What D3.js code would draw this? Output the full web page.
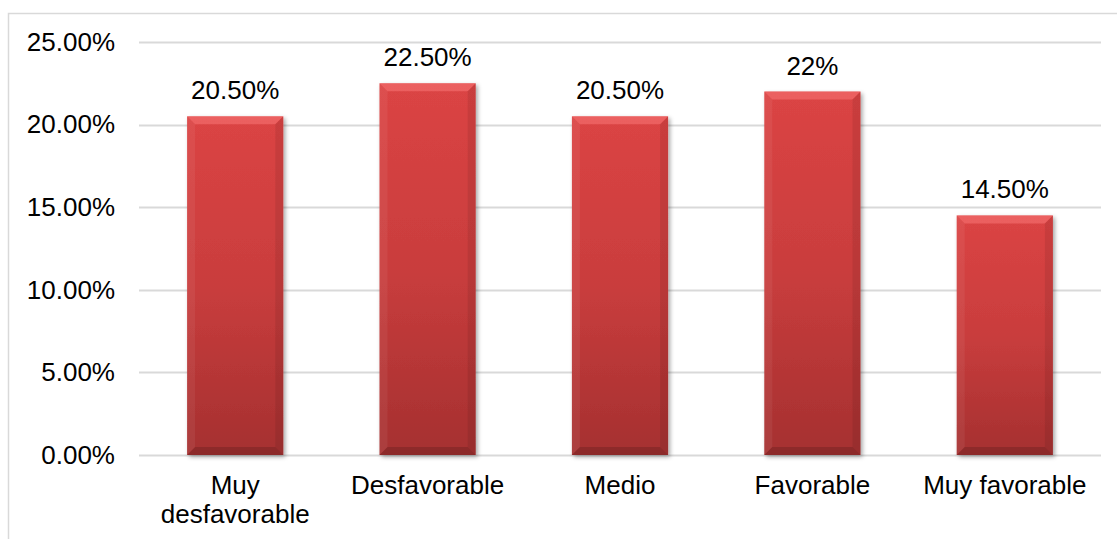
<!DOCTYPE html>
<html>
<head>
<meta charset="utf-8">
<script src="https://cdn.jsdelivr.net/npm/d3@7"></script>
<style>
  html, body { margin: 0; padding: 0; background: #fff; }
  svg { display: block; }
  text { font-family: "Liberation Sans", Arial, sans-serif; fill: #000; }
</style>
</head>
<body>
<svg id="chart" width="1117" height="539"></svg>
<script>
// Distribución de respuestas por nivel de valoración
const categories = ["Muy desfavorable", "Desfavorable", "Medio", "Favorable", "Muy favorable"];
const values = [0.205, 0.225, 0.205, 0.22, 0.145];
const valueLabels = ["20.50%", "22.50%", "20.50%", "22%", "14.50%"];
const yTicks = [0, 0.05, 0.10, 0.15, 0.20, 0.25];

const svg = d3.select("#chart");
const W = 1117, H = 539;
const plot = { left: 139, right: 1101, top: 42, bottom: 455 };
const fontSize = 26;

// chart frame (top and left edges visible)
svg.append("path")
  .attr("d", `M8.5,${H} L8.5,13.5 L${W},13.5`)
  .attr("fill", "none")
  .attr("stroke", "#d9d9d9")
  .attr("stroke-width", 1.5);

const x = d3.scaleBand()
  .domain(categories)
  .range([plot.left, plot.right])
  .paddingInner(0.5)
  .paddingOuter(0.25);

const y = d3.scaleLinear()
  .domain([0, 0.25])
  .range([plot.bottom, plot.top]);

const defs = svg.append("defs");

const grad = defs.append("linearGradient")
  .attr("id", "barFill")
  .attr("x1", 0).attr("y1", 0).attr("x2", 0).attr("y2", 1);
grad.append("stop").attr("offset", "0%").attr("stop-color", "#db4444");
grad.append("stop").attr("offset", "50%").attr("stop-color", "#c93d3d");
grad.append("stop").attr("offset", "100%").attr("stop-color", "#a53030");

const shadow = defs.append("filter")
  .attr("id", "barShadow")
  .attr("x", "-10%").attr("y", "-10%").attr("width", "130%").attr("height", "130%");
shadow.append("feDropShadow")
  .attr("dx", 2).attr("dy", 2).attr("stdDeviation", 2)
  .attr("flood-color", "#000").attr("flood-opacity", 0.35);

// gridlines
const grid = svg.append("g").attr("class", "grid");
grid.selectAll("line")
  .data(yTicks)
  .join("line")
  .attr("x1", plot.left).attr("x2", plot.right)
  .attr("y1", d => Math.round(y(d)) + 0.5)
  .attr("y2", d => Math.round(y(d)) + 0.5)
  .attr("stroke", "#d9d9d9")
  .attr("stroke-width", 2);

// y axis labels
const yAxis = svg.append("g")
  .attr("transform", `translate(${plot.left},0)`)
  .call(d3.axisLeft(y).tickValues(yTicks).tickFormat(d3.format(".2%")).tickSize(0).tickPadding(24));
yAxis.select(".domain").remove();
yAxis.selectAll("text")
  .style("font-family", '"Liberation Sans", Arial, sans-serif')
  .style("font-size", fontSize + "px")
  .attr("fill", "#000");

// bevelled bars
const bev = 8;
const bars = svg.append("g").selectAll("g.bar")
  .data(categories.map((c, i) => ({ c, v: values[i], label: valueLabels[i] })))
  .join("g")
  .attr("class", "bar");

bars.each(function(d) {
  const g = d3.select(this);
  const x0 = x(d.c), x1 = x0 + x.bandwidth();
  const y0 = y(d.v), y1 = y(0);
  g.append("rect")
    .attr("x", x0).attr("y", y0)
    .attr("width", x1 - x0).attr("height", y1 - y0)
    .attr("fill", "url(#barFill)")
    .attr("filter", "url(#barShadow)");
  const poly = (pts, fill, op) => g.append("polygon")
    .attr("points", pts.map(p => p.join(",")).join(" "))
    .attr("fill", fill).attr("opacity", op);
  // top bevel
  poly([[x0, y0], [x1, y0], [x1 - bev, y0 + bev], [x0 + bev, y0 + bev]], "#ff8080", 0.45);
  // left bevel
  poly([[x0, y0], [x0 + bev, y0 + bev], [x0 + bev, y1 - bev], [x0, y1]], "#ffffff", 0.06);
  // right bevel
  poly([[x1, y0], [x1 - bev, y0 + bev], [x1 - bev, y1 - bev], [x1, y1]], "#000000", 0.08);
  // bottom bevel
  poly([[x0, y1], [x0 + bev, y1 - bev], [x1 - bev, y1 - bev], [x1, y1]], "#000000", 0.15);
});

// value labels
bars.append("text")
  .attr("x", d => x(d.c) + x.bandwidth() / 2)
  .attr("y", d => y(d.v) - 17)
  .attr("text-anchor", "middle")
  .style("font-size", fontSize + "px")
  .text(d => d.label);

// category labels, wrapped to the band step
const step = x.step();
const xl = svg.append("g");
categories.forEach(c => {
  const t = xl.append("text")
    .attr("x", x(c) + x.bandwidth() / 2)
    .attr("y", 494)
    .attr("text-anchor", "middle")
    .style("font-size", fontSize + "px");
  const words = c.split(" ");
  let line = [];
  let tspan = t.append("tspan").attr("x", x(c) + x.bandwidth() / 2).attr("dy", 0);
  let lineNo = 0;
  words.forEach(w => {
    line.push(w);
    tspan.text(line.join(" "));
    if (tspan.node().getComputedTextLength() > step && line.length > 1) {
      line.pop();
      tspan.text(line.join(" "));
      line = [w];
      lineNo++;
      tspan = t.append("tspan").attr("x", x(c) + x.bandwidth() / 2).attr("dy", 29).text(w);
    }
  });
});
</script>
</body>
</html>
